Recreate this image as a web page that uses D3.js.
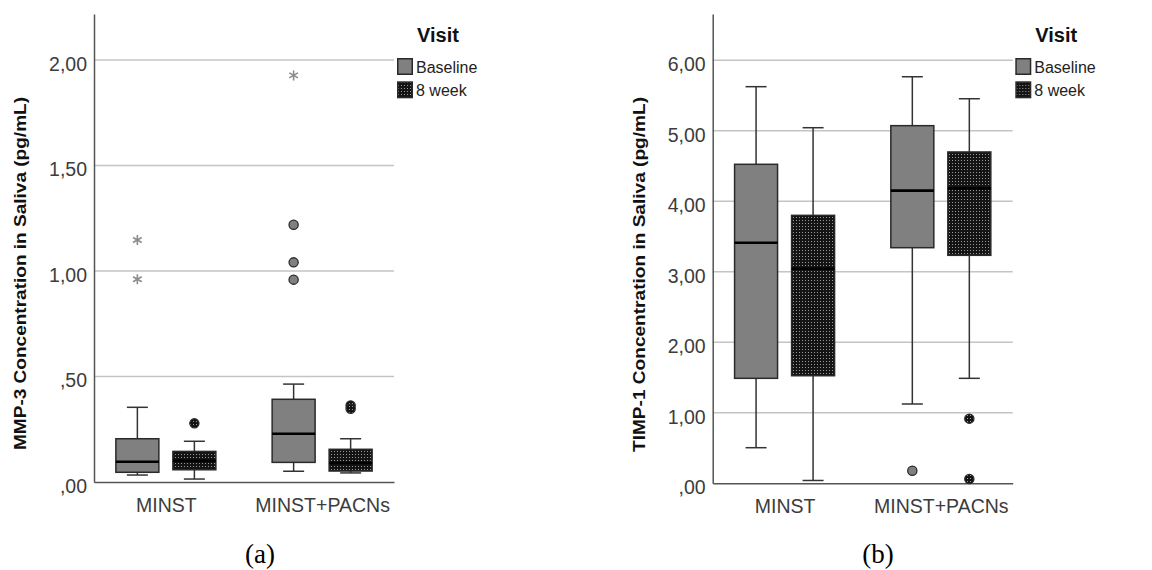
<!DOCTYPE html>
<html>
<head>
<meta charset="utf-8">
<script src="https://cdn.jsdelivr.net/npm/d3@7"></script>
<style>
  html, body { margin: 0; padding: 0; background: #fff; }
  svg { display: block; }
</style>
</head>
<body>
<svg id="chart" width="1152" height="570"></svg>
<script>
// ---------------- DATA ----------------
const categories = ["MINST", "MINST+PACNs"];
const visits = ["Baseline", "8 week"];

// box stats per category: [whiskerLow, q1, median, q3, whiskerHigh]
const mmp3Baseline = [[0.033, 0.046, 0.096, 0.205, 0.354], [0.051, 0.093, 0.229, 0.392, 0.464]];
const mmp3Week8    = [[0.014, 0.058, 0.100, 0.145, 0.193], [0.043, 0.052, 0.090, 0.155, 0.205]];
// outliers: [categoryIndex, visitIndex, value, kind]  kind: "o" circle, "*" extreme
const mmp3Outliers = [
  [0, 0, 1.147, "*"], [0, 0, 0.961, "*"], [0, 1, 0.278, "o"],
  [1, 0, 1.927, "*"], [1, 0, 1.219, "o"], [1, 0, 1.041, "o"], [1, 0, 0.959, "o"],
  [1, 1, 0.363, "o"], [1, 1, 0.347, "o"]
];
const mmp3Ticks = [0, 0.5, 1.0, 1.5, 2.0];
const mmp3TickLabels = [",00", ",50", "1,00", "1,50", "2,00"];

const timp1Baseline = [[0.505, 1.489, 3.413, 4.525, 5.626], [1.125, 3.342, 4.151, 5.073, 5.767]];
const timp1Week8    = [[0.040, 1.526, 3.044, 3.801, 5.044], [1.489, 3.234, 4.184, 4.700, 5.455]];
const timp1Outliers = [
  [1, 0, 0.179, "o"], [1, 1, 0.917, "o"], [1, 1, 0.061, "o"]
];
const timp1Ticks = [0, 1, 2, 3, 4, 5, 6];
const timp1TickLabels = [",00", "1,00", "2,00", "3,00", "4,00", "5,00", "6,00"];

// ---------------- DRAW ----------------
const svg = d3.select("#chart");
svg.append("rect").attr("width", 1152).attr("height", 570).attr("fill", "#fff");

const defs = svg.append("defs");
const pat = defs.append("pattern").attr("id", "dots")
  .attr("patternUnits", "userSpaceOnUse").attr("width", 3).attr("height", 3);
pat.append("rect").attr("width", 3).attr("height", 3).attr("fill", "#141414");
pat.append("rect").attr("x", 1).attr("y", 1).attr("width", 1).attr("height", 1).attr("fill", "#9a9a9a");

const fills = ["#808080", "url(#dots)"];

function panel(cfg) {
  const g = svg.append("g");
  const y = d3.scaleLinear().domain([0, cfg.yMax]).range([cfg.bottom, cfg.top]);
  const x = d3.scalePoint().domain(categories).range([cfg.left, cfg.right]).padding(0.46);
  const xi = d3.scaleBand().domain(visits).range([-72, 72]).paddingInner(0.246).paddingOuter(0.386);
  const bw = xi.bandwidth();

  // gridlines
  g.append("g").selectAll("line").data(cfg.ticks.filter(t => t > 0)).join("line")
    .attr("x1", cfg.left).attr("x2", cfg.right)
    .attr("y1", d => y(d)).attr("y2", d => y(d))
    .attr("stroke", "#c4c4c4").attr("stroke-width", 1.6);

  // y axis
  const yAxis = g.append("g").attr("transform", `translate(${cfg.left},0)`)
    .call(d3.axisLeft(y).tickValues(cfg.ticks).tickSize(0).tickSizeOuter(0).tickPadding(7)
      .tickFormat((d, i) => cfg.tickLabels[i]));
  yAxis.select(".domain").attr("stroke", "#555").attr("stroke-width", 1.5);
  yAxis.selectAll("text").attr("font-family", "Liberation Sans, Arial, sans-serif")
    .attr("font-size", 19.5).attr("fill", "#3c3c3c").attr("transform", "translate(0,4)");

  // x axis
  const xAxis = g.append("g").attr("transform", `translate(0,${cfg.bottom})`)
    .call(d3.axisBottom(x).tickSize(0).tickSizeOuter(0).tickPadding(16));
  xAxis.select(".domain").attr("stroke", "#555").attr("stroke-width", 1.5);
  xAxis.selectAll("text").attr("font-family", "Liberation Sans, Arial, sans-serif")
    .attr("font-size", 19.5).attr("fill", "#3c3c3c");

  // boxes
  const series = [cfg.baseline, cfg.week8];
  series.forEach((arr, vi) => {
    arr.forEach((s, ci) => {
      const cx = x(categories[ci]) + xi(visits[vi]) + bw / 2;
      const [lo, q1, med, q3, hi] = s;
      const bg = g.append("g");
      // whiskers
      bg.append("line").attr("x1", cx).attr("x2", cx).attr("y1", y(hi)).attr("y2", y(q3))
        .attr("stroke", "#333").attr("stroke-width", 1.5);
      bg.append("line").attr("x1", cx).attr("x2", cx).attr("y1", y(q1)).attr("y2", y(lo))
        .attr("stroke", "#333").attr("stroke-width", 1.5);
      bg.append("line").attr("x1", cx - 10.5).attr("x2", cx + 10.5).attr("y1", y(hi)).attr("y2", y(hi))
        .attr("stroke", "#333").attr("stroke-width", 1.5);
      bg.append("line").attr("x1", cx - 10.5).attr("x2", cx + 10.5).attr("y1", y(lo)).attr("y2", y(lo))
        .attr("stroke", "#333").attr("stroke-width", 1.5);
      // box
      bg.append("rect").attr("x", cx - bw / 2).attr("width", bw)
        .attr("y", y(q3)).attr("height", y(q1) - y(q3))
        .attr("fill", fills[vi]).attr("stroke", "#2a2a2a").attr("stroke-width", 1.5);
      // median
      bg.append("line").attr("x1", cx - bw / 2).attr("x2", cx + bw / 2)
        .attr("y1", y(med)).attr("y2", y(med))
        .attr("stroke", "#000").attr("stroke-width", 2.6);
    });
  });

  // outliers
  const star = d3.symbol().type(d3.symbolAsterisk).size(70);
  cfg.outliers.forEach(([ci, vi, v, kind]) => {
    const cx = x(categories[ci]) + xi(visits[vi]) + bw / 2;
    if (kind === "*") {
      g.append("path").attr("d", star()).attr("transform", `translate(${cx},${y(v)})`)
        .attr("fill", "none").attr("stroke", "#8c8c8c").attr("stroke-width", 1.6);
    } else {
      g.append("circle").attr("cx", cx).attr("cy", y(v)).attr("r", 4.6)
        .attr("fill", vi === 0 ? "#808080" : "url(#dots)")
        .attr("stroke", "#2a2a2a").attr("stroke-width", 1.3);
    }
  });

  // y title
  g.append("text")
    .attr("transform", `translate(${cfg.titleX},${cfg.titleY}) rotate(-90)`)
    .attr("text-anchor", "middle").attr("dominant-baseline", "central")
    .attr("font-family", "Liberation Sans, Arial, sans-serif").attr("font-weight", "bold")
    .attr("font-size", 16.5).attr("fill", "#111")
    .attr("textLength", cfg.titleLen).attr("lengthAdjust", "spacingAndGlyphs")
    .text(cfg.title);

  // legend
  const lg = g.append("g").attr("transform", `translate(${cfg.legendX},0)`);
  lg.append("text").attr("x", 20).attr("y", 42)
    .attr("font-family", "Liberation Sans, Arial, sans-serif").attr("font-weight", "bold")
    .attr("font-size", 20).attr("fill", "#111").text("Visit");
  visits.forEach((v, i) => {
    lg.append("rect").attr("x", 0.75).attr("y", 58.75 + i * 23.3).attr("width", 14.5).attr("height", 15.5)
      .attr("fill", fills[i]).attr("stroke", "#2a2a2a").attr("stroke-width", 1.5);
    lg.append("text").attr("x", 19).attr("y", 67 + i * 23.3).attr("dominant-baseline", "central")
      .attr("font-family", "Liberation Sans, Arial, sans-serif").attr("font-size", 16)
      .attr("fill", "#222").text(v);
  });

  // sub caption
  g.append("text").attr("x", cfg.capX).attr("y", 563).attr("text-anchor", "middle")
    .attr("font-family", "Liberation Serif, Times New Roman, serif").attr("font-size", 27)
    .attr("fill", "#000").text(cfg.caption);
}

panel({
  left: 94, right: 394, top: 14, bottom: 482, yMax: 2.218,
  ticks: mmp3Ticks, tickLabels: mmp3TickLabels,
  baseline: mmp3Baseline, week8: mmp3Week8, outliers: mmp3Outliers,
  title: "MMP-3 Concentration in Saliva (pg/mL)", titleX: 20, titleY: 273.5, titleLen: 353,
  legendX: 397, capX: 260, caption: "(a)"
});

panel({
  left: 712.7, right: 1012.7, top: 14, bottom: 483.3, yMax: 6.657,
  ticks: timp1Ticks, tickLabels: timp1TickLabels,
  baseline: timp1Baseline, week8: timp1Week8, outliers: timp1Outliers,
  title: "TIMP-1 Concentration in Saliva (pg/mL)", titleX: 639, titleY: 274.5, titleLen: 355,
  legendX: 1015.3, capX: 878, caption: "(b)"
});
</script>
</body>
</html>
